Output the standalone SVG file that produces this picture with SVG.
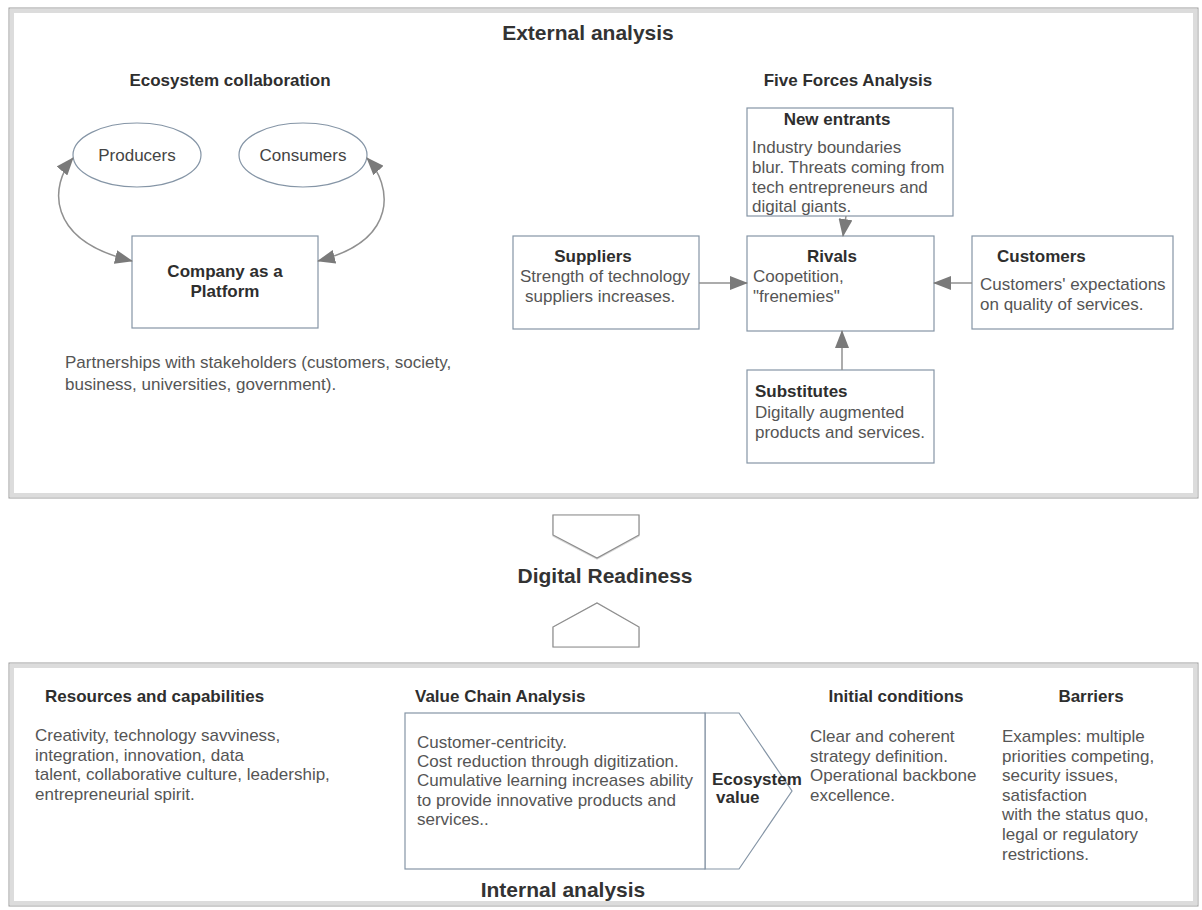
<svg xmlns="http://www.w3.org/2000/svg" width="1202" height="910" viewBox="0 0 1202 910">
<style>
text{font-family:"Liberation Sans",Arial,sans-serif}
.h1{font-size:21px;font-weight:bold;fill:#333;text-anchor:middle}
.h2{font-size:17px;font-weight:bold;fill:#2e2e2e}
.b{font-size:17px;fill:#555}
.box{fill:#fff;stroke:#8595a6;stroke-width:1.2}
.frame{fill:#fff;stroke:#9c9c9c;stroke-width:1}
.band{fill:none;stroke:#dcdcdc;stroke-width:4}
.conn{fill:none;stroke:#909090;stroke-width:1.5}
.rd{fill:#fff;stroke:#8c8c8c;stroke-width:1.2}
.rdsh{fill:none;stroke:#d6d6d6;stroke-width:5}
</style>
<defs>
<marker id="ah" viewBox="0 0 18 14" refX="17" refY="7" markerWidth="18" markerHeight="14" markerUnits="userSpaceOnUse" orient="auto-start-reverse">
<path d="M0 0 L18 7 L0 14 Z" fill="#7a7a7a"/>
</marker>
</defs>
<rect width="1202" height="910" fill="#fff"/>

<g id="external-frame">
<rect class="frame" x="9" y="8" width="1189" height="490"/>
<rect class="band" x="12" y="11" width="1183" height="484"/>
<text class="h1" x="588" y="40">External analysis</text>
<text class="h2" x="230" y="86" text-anchor="middle">Ecosystem collaboration</text>
<text class="h2" x="848" y="86" text-anchor="middle">Five Forces Analysis</text>
</g>

<g id="producers">
<ellipse class="box" cx="137" cy="155" rx="64" ry="32"/>
<text class="b" x="137" y="161" text-anchor="middle" style="fill:#444">Producers</text>
</g>
<g id="consumers">
<ellipse class="box" cx="303" cy="155" rx="64" ry="32"/>
<text class="b" x="303" y="161" text-anchor="middle" style="fill:#444">Consumers</text>
</g>
<g id="company-platform">
<rect class="box" x="132" y="236" width="186" height="92"/>
<text class="h2" x="225" y="277" text-anchor="middle">Company as a</text>
<text class="h2" x="225" y="297" text-anchor="middle">Platform</text>
</g>
<g id="partnerships">
<text class="b" x="65" y="368">Partnerships with stakeholders (customers, society,</text>
<text class="b" x="65" y="390">business, universities, government).</text>
</g>

<g id="new-entrants">
<rect class="box" x="747" y="108" width="206" height="108"/>
<text class="h2" x="837" y="125" text-anchor="middle">New entrants</text>
<text class="b" x="752" y="153">Industry boundaries</text>
<text class="b" x="752" y="173">blur. Threats coming from</text>
<text class="b" x="752" y="193">tech entrepreneurs and</text>
<text class="b" x="752" y="212">digital giants.</text>
</g>
<g id="suppliers">
<rect class="box" x="513" y="236" width="186" height="93"/>
<text class="h2" x="593" y="262" text-anchor="middle">Suppliers</text>
<text class="b" x="520" y="282">Strength of technology</text>
<text class="b" x="525" y="302">suppliers increases.</text>
</g>
<g id="rivals">
<rect class="box" x="747" y="236" width="187" height="95"/>
<text class="h2" x="832" y="262" text-anchor="middle">Rivals</text>
<text class="b" x="753" y="282">Coopetition,</text>
<text class="b" x="753" y="302">"frenemies"</text>
</g>
<g id="customers">
<rect class="box" x="972" y="236" width="201" height="93"/>
<text class="h2" x="997" y="262">Customers</text>
<text class="b" x="980" y="290">Customers' expectations</text>
<text class="b" x="980" y="310">on quality of services.</text>
</g>
<g id="substitutes">
<rect class="box" x="747" y="370" width="187" height="93"/>
<text class="h2" x="755" y="397">Substitutes</text>
<text class="b" x="755" y="418">Digitally augmented</text>
<text class="b" x="755" y="438">products and services.</text>
</g>

<g id="connectors">
<path class="conn" d="M73 158 C50 185 45 240 132 261" marker-start="url(#ah)" marker-end="url(#ah)"/>
<path class="conn" d="M367 158 C392 185 400 240 318 261" marker-start="url(#ah)" marker-end="url(#ah)"/>
<path class="conn" d="M846 216 L843 236" marker-end="url(#ah)"/>
<path class="conn" d="M699 283 L747 283" marker-end="url(#ah)"/>
<path class="conn" d="M972 283 L934 283" marker-end="url(#ah)"/>
<path class="conn" d="M842 370 L842 331" marker-end="url(#ah)"/>
</g>

<g id="digital-readiness">
<path class="rdsh" d="M555 517 L637 517 L637 535 L597 557 L555 535 Z"/>
<path class="rd" d="M553 515 L639 515 L639 535 L597 558 L553 535 Z"/>
<text class="h1" x="605" y="583">Digital Readiness</text>
<path class="rdsh" d="M597 605 L637 628 L637 645 L555 645 L555 628 Z"/>
<path class="rd" d="M597 603 L639 627 L639 647 L553 647 L553 627 Z"/>
</g>

<g id="internal-frame">
<rect class="frame" x="9" y="663" width="1189" height="243"/>
<rect class="band" x="12" y="666" width="1183" height="237"/>
<text class="h1" x="563" y="897">Internal analysis</text>
</g>

<g id="resources">
<text class="h2" x="45" y="702">Resources and capabilities</text>
<text class="b" x="35" y="741">Creativity, technology savviness,</text>
<text class="b" x="35" y="761">integration, innovation, data</text>
<text class="b" x="35" y="780">talent, collaborative culture, leadership,</text>
<text class="b" x="35" y="800">entrepreneurial spirit.</text>
</g>
<g id="value-chain">
<text class="h2" x="415" y="702">Value Chain Analysis</text>
<path class="box" d="M705 713 L739 713 L792 791 L739 869 L705 869 Z"/>
<rect class="box" x="405" y="713" width="300" height="156"/>
<text class="b" x="417" y="748">Customer-centricity.</text>
<text class="b" x="417" y="767">Cost reduction through digitization.</text>
<text class="b" x="417" y="786">Cumulative learning increases ability</text>
<text class="b" x="417" y="806">to provide innovative products and</text>
<text class="b" x="417" y="825">services..</text>
<text class="h2" x="712" y="785">Ecosystem</text>
<text class="h2" x="716" y="803">value</text>
</g>
<g id="initial-conditions">
<text class="h2" x="896" y="702" text-anchor="middle">Initial conditions</text>
<text class="b" x="810" y="742">Clear and coherent</text>
<text class="b" x="810" y="762">strategy definition.</text>
<text class="b" x="810" y="781">Operational backbone</text>
<text class="b" x="810" y="801">excellence.</text>
</g>
<g id="barriers">
<text class="h2" x="1091" y="702" text-anchor="middle">Barriers</text>
<text class="b" x="1002" y="742">Examples: multiple</text>
<text class="b" x="1002" y="762">priorities competing,</text>
<text class="b" x="1002" y="781">security issues,</text>
<text class="b" x="1002" y="801">satisfaction</text>
<text class="b" x="1002" y="820">with the status quo,</text>
<text class="b" x="1002" y="840">legal or regulatory</text>
<text class="b" x="1002" y="860">restrictions.</text>
</g>
</svg>
